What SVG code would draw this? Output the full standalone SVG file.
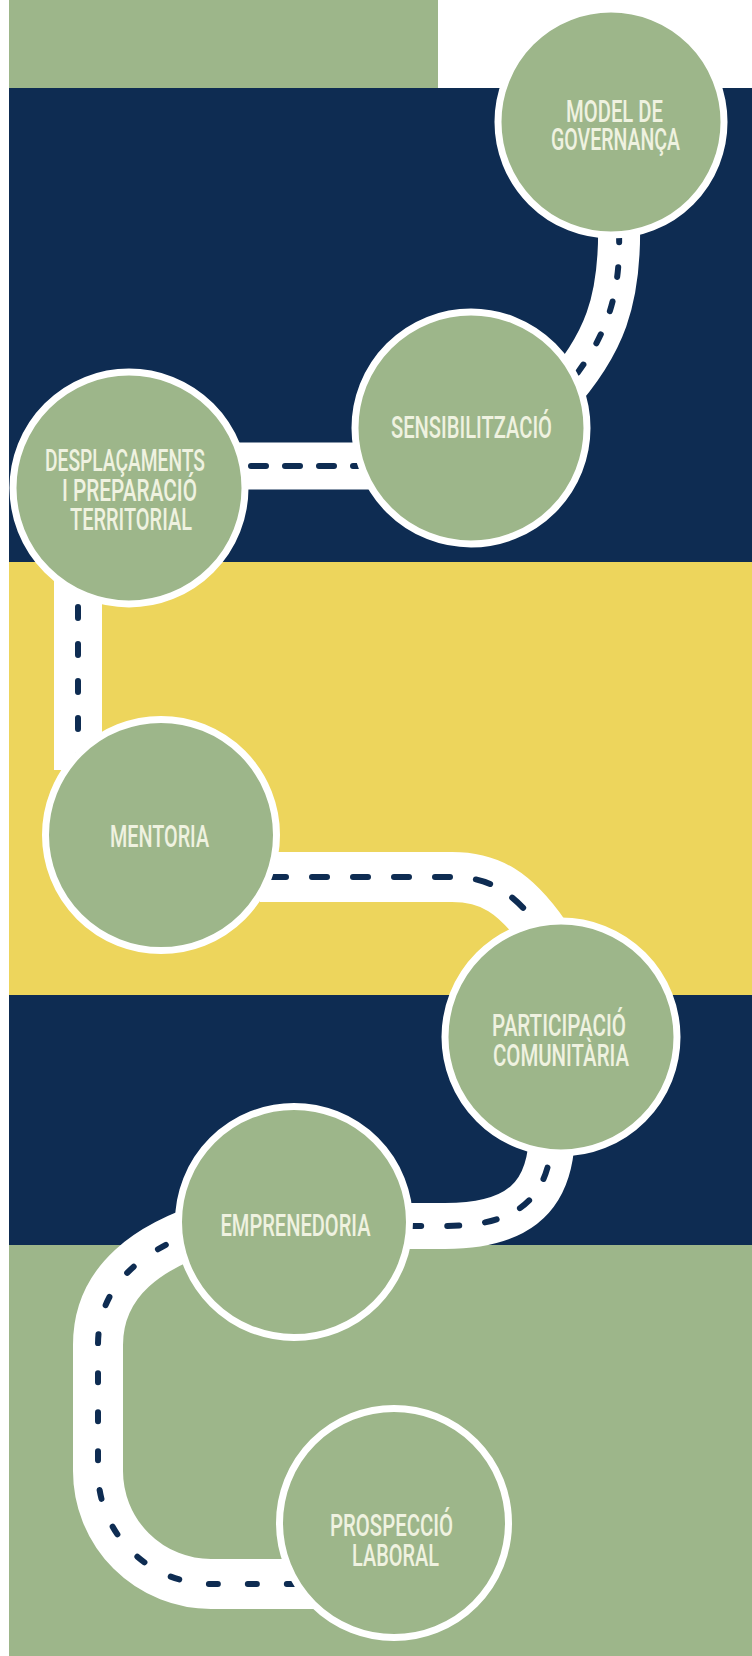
<svg xmlns="http://www.w3.org/2000/svg" width="752" height="1656" viewBox="0 0 752 1656">
<defs>
<style>
.navy{fill:#0e2c52}
.yellow{fill:#edd55c}
.green{fill:#9db68a}
.road{fill:none;stroke:#ffffff;stroke-width:48;stroke-linecap:butt}
.lane{fill:none;stroke:#0e2c52;stroke-width:6;stroke-linecap:round}
.node circle{fill:#9db68a;stroke:#ffffff;stroke-width:7}
.node text{fill:#eff2e0;font-family:Roboto,"Liberation Sans",sans-serif;font-size:31px;font-weight:500;text-anchor:middle}
</style>
</defs>
<g id="background">
<rect x="0" y="0" width="752" height="1656" fill="#ffffff"/>
<rect class="green" x="9" y="0" width="429" height="88"/>
<rect class="navy" x="9" y="88" width="743" height="474"/>
<rect class="yellow" x="9" y="562" width="743" height="433"/>
<rect class="navy" x="9" y="995" width="743" height="250"/>
<rect class="green" x="9" y="1245" width="743" height="411"/>
</g>
<g id="connectors">
<path class="road" style="stroke-width:42" d="M619 220 C621 300 605 345 555 400"/>
<path class="lane" stroke-dasharray="10 25" stroke-dashoffset="0" d="M619 232 C621 300 605 345 555 400"/>
<path class="road" style="stroke-width:47" d="M230 466 H380"/>
<path class="lane" stroke-dasharray="15 19" stroke-dashoffset="13" d="M230 466 H380"/>
<path class="road" d="M78 560 V770"/>
<path class="lane" stroke-dasharray="11 26" stroke-dashoffset="27" d="M78 560 V770"/>
<path class="road" style="stroke-width:50" d="M260 877 H452 C490 877 515 892 545 935"/>
<path class="lane" stroke-dasharray="15 26" stroke-dashoffset="30" d="M260 877 H452 C490 877 515 892 545 935"/>
<path class="road" style="stroke-width:46" d="M552 1130 C552 1198 518 1226 445 1226 H380"/>
<path class="lane" stroke-dasharray="12 26" stroke-dashoffset="0" d="M552 1130 C552 1198 518 1226 445 1226 H380"/>
<path class="road" style="stroke-width:50" d="M215 1225 C150 1245 98 1280 98 1345 V1471 A113 113 0 0 0 211 1584 H320"/>
<path class="lane" stroke-dasharray="9 30" stroke-dashoffset="25" d="M215 1225 C150 1245 98 1280 98 1345 V1471 A113 113 0 0 0 211 1584 H320"/>
</g>
<g id="node-model" class="node">
<circle cx="611" cy="122" r="113"/>
<text x="614.5" y="122" textLength="97" lengthAdjust="spacingAndGlyphs">MODEL DE</text>
<text x="615.5" y="150" textLength="129" lengthAdjust="spacingAndGlyphs">GOVERNANÇA</text>
</g>
<g id="node-sensibilitzacio" class="node">
<circle cx="471" cy="428" r="116"/>
<text x="471.5" y="438" textLength="161" lengthAdjust="spacingAndGlyphs">SENSIBILITZACIÓ</text>
</g>
<g id="node-desplacaments" class="node">
<circle cx="129" cy="488" r="116"/>
<text x="125" y="471" textLength="160" lengthAdjust="spacingAndGlyphs">DESPLAÇAMENTS</text>
<text x="129.5" y="501" textLength="135" lengthAdjust="spacingAndGlyphs">I PREPARACIÓ</text>
<text x="131" y="530" textLength="122" lengthAdjust="spacingAndGlyphs">TERRITORIAL</text>
</g>
<g id="node-mentoria" class="node">
<circle cx="161" cy="835" r="115.5"/>
<text x="159.5" y="847" textLength="99" lengthAdjust="spacingAndGlyphs">MENTORIA</text>
</g>
<g id="node-participacio" class="node">
<circle cx="561" cy="1037" r="116"/>
<text x="559" y="1036" textLength="134" lengthAdjust="spacingAndGlyphs">PARTICIPACIÓ</text>
<text x="561" y="1066" textLength="136" lengthAdjust="spacingAndGlyphs">COMUNITÀRIA</text>
</g>
<g id="node-emprenedoria" class="node">
<circle cx="294" cy="1222" r="115.5"/>
<text x="295.5" y="1236" textLength="150" lengthAdjust="spacingAndGlyphs">EMPRENEDORIA</text>
</g>
<g id="node-prospeccio" class="node">
<circle cx="394" cy="1523" r="114.5"/>
<text x="391.5" y="1536" textLength="123" lengthAdjust="spacingAndGlyphs">PROSPECCIÓ</text>
<text x="395.5" y="1566" textLength="87" lengthAdjust="spacingAndGlyphs">LABORAL</text>
</g>
</svg>
